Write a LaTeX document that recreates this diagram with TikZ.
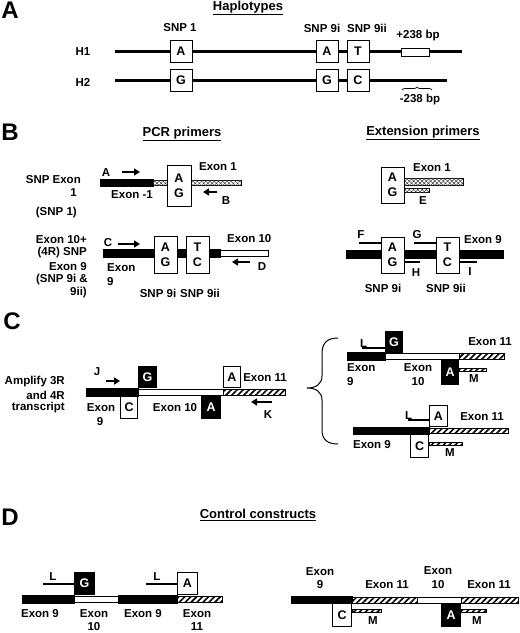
\documentclass[tikz,border=0pt]{standalone}
\usepackage{fontspec}
\setmainfont{Liberation Sans}
\usetikzlibrary{arrows.meta,patterns.meta,decorations.pathreplacing}

\tikzset{
    lbl/.style={font=\bfseries\fontsize{11.5}{12}\selectfont, inner sep=1pt},
    ttl/.style={font=\bfseries\fontsize{13}{14}\selectfont, inner sep=1pt},
    panel/.style={font=\bfseries\fontsize{24}{26}\selectfont, inner sep=0pt},
    snp/.style={draw, line width=0.8pt, fill=white, inner sep=0pt, align=center,
        font=\bfseries\fontsize{12.5}{15}\selectfont},
    snpdark/.style={snp, fill=black, text=white},
    exblack/.style={draw, line width=0.8pt, fill=black},
    exwhite/.style={draw, line width=0.8pt, fill=white},
    exhatch/.style={draw, line width=0.8pt, fill=white,
        postaction={pattern={Lines[angle=45,distance=4.2pt,line width=1.6pt]}}},
    excross/.style={draw, line width=0.6pt, fill=white,
        postaction={pattern={Hatch[angle=45,distance=3pt,line width=0.5pt]}, pattern color=black!75}},
    primer/.style={line width=1.6pt},
    fwd/.style={line width=1.8pt, -{Triangle[length=6pt,width=7pt]}},
    dna/.style={line width=3pt}
}

\begin{document}
\begin{tikzpicture}[x=1pt,y=-1pt]
            \fill[white] (0,0) rectangle (520,633);
            \useasboundingbox (0,0) rectangle (520,633);

            % A: haplotypes
            \node[panel] (pA) at (10,10) {A};
            \node[ttl] (tA) at (248,8) {\underline{Haplotypes}};
            \node[lbl] (h1) at (83,52) {H1};
            \node[lbl] (h2) at (83,82) {H2};
            \draw[dna] (115,51) -- (462,51);
            \draw[dna] (115,80) -- (447,80);
            \foreach \x/\ha/\hb [count=\i] in {181/A/G, 327/A/G, 358/T/C}{
                \node[snp, minimum size=22pt] (hA\i) at (\x,51) {\ha};
                \node[snp, minimum size=22pt] (hB\i) at (\x,80) {\hb};
            }
            \node[lbl] (sA1) at (180,28) {SNP 1};
            \node[lbl] (sA2) at (322,28) {SNP 9i};
            \node[lbl] (sA3) at (367,28) {SNP 9ii};
            \draw[line width=1pt, fill=white] (401,48) rectangle (429,56);
            \node[lbl] (ins) at (418,36) {+238 bp};
            \draw[line width=0.7pt, decorate, decoration={brace, amplitude=3pt}] (402,90) -- (432,90);
            \node[lbl] (del) at (420,100) {-238 bp};

            % B: primers
            \node[panel] (pB) at (10,132) {B};
            \node[ttl] (tB1) at (182,134) {\underline{PCR primers}};
            \node[ttl] (tB2) at (423,133) {\underline{Extension primers}};

            \node[lbl, anchor=east] (r1a) at (82,180) {SNP Exon};
            \node[lbl, anchor=east] (r1b) at (78,193) {1};
            \node[lbl, anchor=east] (r1c) at (78,213) {(SNP 1)};
            \draw[exblack] (100,179) rectangle (153,186);
            \draw[excross] (153,180) rectangle (241,185);
            \node[snp, minimum width=24pt, minimum height=41pt] (b1) at (179,185.5) {A\\G};
            \node[lbl] (pa) at (106,173) {A};
            \coordinate (pa0) at (122,172);
            \draw[fwd] (pa0) -- ++(18,0);
            \node[lbl] (em1) at (132,195) {Exon -1};
            \node[lbl] (e1) at (218,167) {Exon 1};
            \coordinate (pb0) at (217,192);
            \draw[fwd] (pb0) -- ++(-14,0);
            \node[lbl] (pb) at (226,201) {B};

            \node[lbl, anchor=east] (r2a) at (88,240) {Exon 10+};
            \node[lbl, anchor=east] (r2b) at (88,253) {(4R) SNP};
            \node[lbl, anchor=east] (r2c) at (88,267) {Exon 9};
            \node[lbl, anchor=east] (r2d) at (89,280) {(SNP 9i \&};
            \node[lbl, anchor=east] (r2e) at (88,293) {9ii)};
            \draw[exblack] (103,249) rectangle (220,257);
            \draw[exwhite] (220,250) rectangle (268,256);
            \node[snp, minimum width=23pt, minimum height=37pt] (b2) at (165.5,254.5) {A\\G};
            \node[snp, minimum width=23pt, minimum height=37pt] (b3) at (197.5,254.5) {T\\C};
            \node[lbl] (pc) at (108,243) {C};
            \coordinate (pc0) at (118,244);
            \draw[fwd] (pc0) -- ++(22,0);
            \node[lbl, anchor=west] (e9a) at (106,268) {Exon};
            \node[lbl, anchor=west] (e9b) at (106,282) {9};
            \node[lbl, anchor=west] (e10) at (226,239) {Exon 10};
            \coordinate (pd0) at (250,262);
            \draw[fwd] (pd0) -- ++(-18,0);
            \node[lbl] (pd) at (262,267) {D};
            \node[lbl] (sB1) at (158,293) {SNP 9i};
            \node[lbl] (sB2) at (200,293) {SNP 9ii};

            \draw[excross] (404,178) rectangle (463,185);
            \draw[excross] (404,188) rectangle (429,192);
            \node[snp, minimum width=23pt, minimum height=36pt] (x1) at (392.5,185) {A\\G};
            \node[lbl] (pe) at (423,201) {E};
            \node[lbl] (xe1) at (432,168) {Exon 1};

            \draw[exblack] (346,250) rectangle (503,258);
            \node[snp, minimum width=23pt, minimum height=36pt] (x2) at (392.5,255) {A\\G};
            \node[snp, minimum width=23pt, minimum height=36pt] (x3) at (447.5,255) {T\\C};
            \coordinate (pf0) at (359,243);
            \coordinate (pg0) at (414,243);
            \coordinate (ph0) at (420,262);
            \coordinate (pi0) at (477,262);
            \draw[primer] (pf0) -- (pf0 -| x2.west);
            \draw[primer] (pg0) -- (pg0 -| x3.west);
            \draw[primer] (ph0) -- (ph0 -| x2.east);
            \draw[primer] (pi0) -- (pi0 -| x3.east);
            \node[lbl] (pf) at (361,235) {F};
            \node[lbl] (pg) at (417,235) {G};
            \node[lbl] (ph) at (416,273) {H};
            \node[lbl] (pi) at (470,272) {I};
            \node[lbl] (xe9) at (483,240) {Exon 9};
            \node[lbl] (sB3) at (383,288) {SNP 9i};
            \node[lbl] (sB4) at (446,288) {SNP 9ii};

            % C: 3R and 4R transcript
            \node[panel] (pC) at (12,321) {C};
            \node[lbl, anchor=east] (c1) at (66,382) {Amplify 3R};
            \node[lbl, anchor=east] (c2) at (66,395) {and 4R};
            \node[lbl, anchor=east] (c3) at (66,408) {transcript};
            \draw[exblack] (86,388) rectangle (138,396);
            \draw[exwhite] (138,389) rectangle (223,395);
            \draw[exhatch] (223,389) rectangle (285,395);
            \node[snpdark, minimum width=18pt, minimum height=21pt, anchor=south west] (cg) at (138,388) {G};
            \node[snp, minimum width=17pt, minimum height=22pt, anchor=north east] (cc) at (138,396) {C};
            \node[snpdark, minimum width=19pt, minimum height=22pt, anchor=north east] (ca) at (221,396) {A};
            \node[snp, minimum width=17pt, minimum height=21pt, anchor=south west] (ca2) at (223,388) {A};
            \node[lbl] (pj) at (97,372) {J};
            \coordinate (pj0) at (106,381);
            \draw[fwd] (pj0) -- ++(14,0);
            \node[lbl] (ce9a) at (101,408) {Exon};
            \node[lbl] (ce9b) at (100,422) {9};
            \node[lbl] (ce10) at (175,408) {Exon 10};
            \node[lbl] (ce11) at (265,378) {Exon 11};
            \coordinate (pk0) at (272,402);
            \draw[fwd] (pk0) -- ++(-21,0);
            \node[lbl] (pk) at (268,415) {K};

            \draw[line width=1pt] (338,338) .. controls (326,338) and (322,344) .. (322,354)
                -- (322,376) .. controls (322,384) and (316,388) .. (307,388)
                .. controls (316,388) and (322,392) .. (322,400)
                -- (322,430) .. controls (322,440) and (328,444) .. (338,444);

            \draw[exblack] (347,352) rectangle (385,360);
            \draw[exwhite] (385,353) rectangle (459,359);
            \draw[exhatch] (459,353) rectangle (504,359);
            \draw[exhatch] (459,368) rectangle (486,371);
            \node[snpdark, minimum width=17pt, minimum height=21pt, anchor=south west] (tg) at (385,353) {G};
            \node[snpdark, minimum width=17pt, minimum height=24pt, anchor=north east] (ta) at (459,360) {A};
            \coordinate (pl1) at (362,348);
            \draw[primer] (pl1) -- (pl1 -| tg.west);
            \node[lbl, anchor=base west, inner sep=0pt] (l1) at (360,347) {L};
            \node[lbl] (m1) at (474,379) {M};
            \node[lbl] (te11) at (490,342) {Exon 11};
            \node[lbl, anchor=west] (te9a) at (346,368) {Exon};
            \node[lbl, anchor=west] (te9b) at (346,382) {9};
            \node[lbl] (te10a) at (418,368) {Exon};
            \node[lbl] (te10b) at (418,382) {10};

            \draw[exblack] (353,427) rectangle (429,434);
            \draw[exhatch] (429,428) rectangle (508,433);
            \draw[exhatch] (429,442) rectangle (462,445);
            \node[snp, minimum width=18pt, minimum height=21pt, anchor=south west] (ua) at (429,427) {A};
            \node[snp, minimum width=18pt, minimum height=23pt, anchor=north east] (uc) at (429,434) {C};
            \coordinate (pl2) at (408,420);
            \draw[primer] (pl2) -- (pl2 -| ua.west);
            \node[lbl, anchor=base west, inner sep=0pt] (l2) at (405,419) {L};
            \node[lbl] (m2) at (450,453) {M};
            \node[lbl] (ue11) at (482,417) {Exon 11};
            \node[lbl] (ue9) at (372,445) {Exon 9};

            % D: control constructs
            \node[panel] (pD) at (10,517) {D};
            \node[ttl] (tD) at (258,515) {\underline{Control constructs}};

            \draw[exblack] (22,595) rectangle (74,603);
            \draw[exwhite] (74,596) rectangle (118,602);
            \draw[exblack] (118,595) rectangle (177,603);
            \draw[exhatch] (177,596) rectangle (222,602);
            \node[snpdark, minimum width=20pt, minimum height=22pt, anchor=south west] (dg) at (74,595) {G};
            \node[snp, minimum width=20pt, minimum height=22pt, anchor=south west] (da) at (177,595) {A};
            \coordinate (pl3) at (43,584);
            \coordinate (pl4) at (146,584);
            \draw[primer] (pl3) -- (pl3 -| dg.west);
            \draw[primer] (pl4) -- (pl4 -| da.west);
            \node[lbl] (l3) at (53,577) {L};
            \node[lbl] (l4) at (157,577) {L};
            \node[lbl] (de9a) at (40,614) {Exon 9};
            \node[lbl] (de10a) at (94,614) {Exon};
            \node[lbl] (de10b) at (94,627) {10};
            \node[lbl] (de9b) at (143,614) {Exon 9};
            \node[lbl] (de11a) at (197,614) {Exon};
            \node[lbl] (de11b) at (197,627) {11};

            \draw[exblack] (291,596) rectangle (352,603);
            \draw[exhatch] (352,597) rectangle (417,603);
            \draw[exwhite] (417,597) rectangle (461,603);
            \draw[exhatch] (461,597) rectangle (518,603);
            \draw[exhatch] (352,609) rectangle (381,612);
            \draw[exhatch] (461,609) rectangle (486,612);
            \node[snp, minimum width=19pt, minimum height=23pt, anchor=north east] (dc) at (352,603) {C};
            \node[snpdark, minimum width=19pt, minimum height=23pt, anchor=north east] (da2) at (461,603) {A};
            \node[lbl] (m3) at (373,621) {M};
            \node[lbl] (m4) at (477,621) {M};
            \node[lbl] (dr9a) at (320,572) {Exon};
            \node[lbl] (dr9b) at (320,585) {9};
            \node[lbl] (dr11a) at (387,585) {Exon 11};
            \node[lbl] (dr10a) at (438,571) {Exon};
            \node[lbl] (dr10b) at (438,585) {10};
            \node[lbl] (dr11b) at (489,585) {Exon 11};

        \end{tikzpicture}
\end{document}
